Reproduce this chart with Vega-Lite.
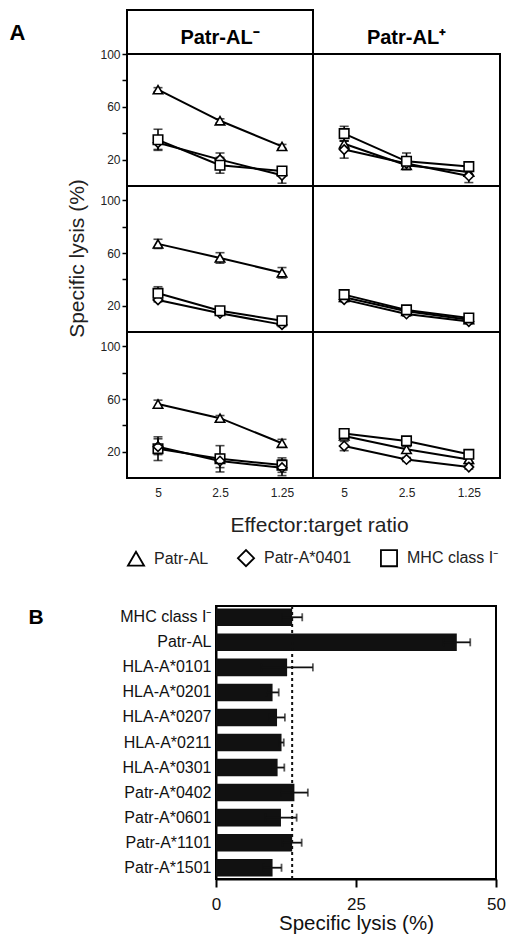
{
  "$schema": "https://vega.github.io/schema/vega-lite/v6.json",
  "padding": {"left": 8, "top": 9, "right": 4, "bottom": 4},
  "config": {
    "font": "Liberation Sans",
    "view": {"stroke": "black", "strokeWidth": 2},
    "axis": {"labelFont": "Liberation Sans", "titleFont": "Liberation Sans", "grid": false, "labelFlush": false}
  },
  "datasets": {
    "lysis": [
      {"row": 1, "col": "neg", "series": "Patr-AL", "et": "5", "v": 73, "e": 1.5},
      {"row": 1, "col": "neg", "series": "Patr-AL", "et": "2.5", "v": 49.4, "e": 1.5},
      {"row": 1, "col": "neg", "series": "Patr-AL", "et": "1.25", "v": 30, "e": 1.5},
      {"row": 1, "col": "neg", "series": "Patr-A*0401", "et": "5", "v": 32.7, "e": 5},
      {"row": 1, "col": "neg", "series": "Patr-A*0401", "et": "2.5", "v": 20, "e": 5},
      {"row": 1, "col": "neg", "series": "Patr-A*0401", "et": "1.25", "v": 8.1, "e": 6},
      {"row": 1, "col": "neg", "series": "MHC class I⁻", "et": "5", "v": 35, "e": 8},
      {"row": 1, "col": "neg", "series": "MHC class I⁻", "et": "2.5", "v": 15.7, "e": 6},
      {"row": 1, "col": "neg", "series": "MHC class I⁻", "et": "1.25", "v": 11.4, "e": 3},
      {"row": 1, "col": "pos", "series": "Patr-AL", "et": "5", "v": 32, "e": 2},
      {"row": 1, "col": "pos", "series": "Patr-AL", "et": "2.5", "v": 15.7, "e": 2},
      {"row": 1, "col": "pos", "series": "Patr-AL", "et": "1.25", "v": 10.6, "e": 2},
      {"row": 1, "col": "pos", "series": "Patr-A*0401", "et": "5", "v": 27.6, "e": 6.5},
      {"row": 1, "col": "pos", "series": "Patr-A*0401", "et": "2.5", "v": 17, "e": 2},
      {"row": 1, "col": "pos", "series": "Patr-A*0401", "et": "1.25", "v": 7.6, "e": 5},
      {"row": 1, "col": "pos", "series": "MHC class I⁻", "et": "5", "v": 39.7, "e": 5.5},
      {"row": 1, "col": "pos", "series": "MHC class I⁻", "et": "2.5", "v": 18.7, "e": 6.3},
      {"row": 1, "col": "pos", "series": "MHC class I⁻", "et": "1.25", "v": 14.7, "e": 2},
      {"row": 2, "col": "neg", "series": "Patr-AL", "et": "5", "v": 67, "e": 3.5},
      {"row": 2, "col": "neg", "series": "Patr-AL", "et": "2.5", "v": 56.3, "e": 4},
      {"row": 2, "col": "neg", "series": "Patr-AL", "et": "1.25", "v": 45, "e": 4},
      {"row": 2, "col": "neg", "series": "Patr-A*0401", "et": "5", "v": 24.4, "e": 1.5},
      {"row": 2, "col": "neg", "series": "Patr-A*0401", "et": "2.5", "v": 14.2, "e": 1.5},
      {"row": 2, "col": "neg", "series": "Patr-A*0401", "et": "1.25", "v": 5.6, "e": 1.5},
      {"row": 2, "col": "neg", "series": "MHC class I⁻", "et": "5", "v": 29.4, "e": 5},
      {"row": 2, "col": "neg", "series": "MHC class I⁻", "et": "2.5", "v": 16.2, "e": 1.5},
      {"row": 2, "col": "neg", "series": "MHC class I⁻", "et": "1.25", "v": 8.6, "e": 1.5},
      {"row": 2, "col": "pos", "series": "Patr-AL", "et": "5", "v": 26.4, "e": 1.5},
      {"row": 2, "col": "pos", "series": "Patr-AL", "et": "2.5", "v": 15.7, "e": 2},
      {"row": 2, "col": "pos", "series": "Patr-AL", "et": "1.25", "v": 9.4, "e": 1.5},
      {"row": 2, "col": "pos", "series": "Patr-A*0401", "et": "5", "v": 24.6, "e": 1.5},
      {"row": 2, "col": "pos", "series": "Patr-A*0401", "et": "2.5", "v": 13.7, "e": 1.5},
      {"row": 2, "col": "pos", "series": "Patr-A*0401", "et": "1.25", "v": 7.9, "e": 1.5},
      {"row": 2, "col": "pos", "series": "MHC class I⁻", "et": "5", "v": 28.4, "e": 2},
      {"row": 2, "col": "pos", "series": "MHC class I⁻", "et": "2.5", "v": 16.8, "e": 2.5},
      {"row": 2, "col": "pos", "series": "MHC class I⁻", "et": "1.25", "v": 10.7, "e": 2},
      {"row": 3, "col": "neg", "series": "Patr-AL", "et": "5", "v": 56.2, "e": 3},
      {"row": 3, "col": "neg", "series": "Patr-AL", "et": "2.5", "v": 45.5, "e": 2},
      {"row": 3, "col": "neg", "series": "Patr-AL", "et": "1.25", "v": 26.4, "e": 3},
      {"row": 3, "col": "neg", "series": "Patr-A*0401", "et": "5", "v": 23.8, "e": 6},
      {"row": 3, "col": "neg", "series": "Patr-A*0401", "et": "2.5", "v": 12.9, "e": 5},
      {"row": 3, "col": "neg", "series": "Patr-A*0401", "et": "1.25", "v": 7.8, "e": 6},
      {"row": 3, "col": "neg", "series": "MHC class I⁻", "et": "5", "v": 22.3, "e": 9},
      {"row": 3, "col": "neg", "series": "MHC class I⁻", "et": "2.5", "v": 14.6, "e": 10},
      {"row": 3, "col": "neg", "series": "MHC class I⁻", "et": "1.25", "v": 9.8, "e": 5.5},
      {"row": 3, "col": "pos", "series": "Patr-AL", "et": "5", "v": 32, "e": 2},
      {"row": 3, "col": "pos", "series": "Patr-AL", "et": "2.5", "v": 21.8, "e": 2},
      {"row": 3, "col": "pos", "series": "Patr-AL", "et": "1.25", "v": 14.1, "e": 2},
      {"row": 3, "col": "pos", "series": "Patr-A*0401", "et": "5", "v": 24.3, "e": 3.5},
      {"row": 3, "col": "pos", "series": "Patr-A*0401", "et": "2.5", "v": 14.1, "e": 1.5},
      {"row": 3, "col": "pos", "series": "Patr-A*0401", "et": "1.25", "v": 8.3, "e": 1.5},
      {"row": 3, "col": "pos", "series": "MHC class I⁻", "et": "5", "v": 33.8, "e": 2},
      {"row": 3, "col": "pos", "series": "MHC class I⁻", "et": "2.5", "v": 28.2, "e": 2},
      {"row": 3, "col": "pos", "series": "MHC class I⁻", "et": "1.25", "v": 18, "e": 2}
    ],
    "bars": [
      {"allele": "MHC class I⁻", "lysis": 13.6, "err": 1.8},
      {"allele": "Patr-AL", "lysis": 43.0, "err": 2.4},
      {"allele": "HLA-A*0101", "lysis": 12.7, "err": 4.6},
      {"allele": "HLA-A*0201", "lysis": 10.1, "err": 1.1},
      {"allele": "HLA-A*0207", "lysis": 10.9, "err": 1.4},
      {"allele": "HLA-A*0211", "lysis": 11.7, "err": 0.4},
      {"allele": "HLA-A*0301", "lysis": 11.0, "err": 1.2},
      {"allele": "Patr-A*0402", "lysis": 14.0, "err": 2.4},
      {"allele": "Patr-A*0601", "lysis": 11.6, "err": 2.8},
      {"allele": "Patr-A*1101", "lysis": 13.6, "err": 1.7},
      {"allele": "Patr-A*1501", "lysis": 10.1, "err": 1.6}
    ],
    "ref": [{"mhc": 13.6}],
    "hneg": [{"h": "Patr-AL⁻"}],
    "hpos": [{"h": "Patr-AL⁺"}],
    "none": []
  },
  "vconcat": [
    {
      "concat": [
        {
          "width": 186, "height": 44,
          "data": {"name": "hneg"},
          "mark": {"type": "text", "fontSize": 20, "fontWeight": "bold", "baseline": "middle", "dy": 6, "color": "black"},
          "encoding": {
            "text": {"field": "h"},
            "y": {"field": "h", "type": "nominal", "scale": {"type": "point", "padding": 0.5},
              "axis": {"labels": false, "ticks": false, "domain": false, "title": "A", "titleX": -118, "titleY": 29, "titleAngle": 0, "titleAlign": "left", "titleBaseline": "alphabetic", "titleFontSize": 22, "titleFontWeight": "bold", "titleColor": "black"}}
          }
        },
        {
          "width": 187, "height": 44,
          "data": {"name": "hpos"},
          "mark": {"type": "text", "fontSize": 20, "fontWeight": "bold", "baseline": "middle", "dy": 6, "color": "black"},
          "encoding": {"text": {"field": "h"}}
        },
        {
          "width": 186, "height": 132,
          "data": {"name": "lysis"},
          "transform": [{"filter": "datum.row == 1 && datum.col == 'neg'"}],
          "encoding": {
            "x": {"field": "et", "type": "nominal", "scale": {"type": "point", "domain": ["5", "2.5", "1.25"], "padding": 0.5}, "axis": null},
            "y": {"field": "v", "type": "quantitative", "scale": {"domain": [0, 100], "nice": false, "zero": true},
              "axis": {"values": [20, 40, 60, 80, 100], "labelExpr": "datum.value == 40 || datum.value == 80 ? '' : datum.label", "tickSize": 5, "tickWidth": 1.5, "tickColor": "black", "domain": false, "labelFontSize": 12, "labelPadding": 2, "labelColor": "#222", "title": null}}
          },
          "layer": [
            {"mark": {"type": "line", "color": "black", "strokeWidth": 2}, "encoding": {"detail": {"field": "series"}}},
            {"mark": {"type": "errorbar", "ticks": {"size": 9}, "thickness": 1.6, "color": "black"}, "encoding": {"yError": {"field": "e"}, "detail": {"field": "series"}}},
            {"mark": {"type": "point", "filled": false, "color": "black", "fill": "white", "stroke": "black", "strokeWidth": 1.6, "size": 90, "opacity": 1},
              "encoding": {"shape": {"field": "series", "type": "nominal", "scale": {"domain": ["Patr-AL", "Patr-A*0401", "MHC class I⁻"], "range": ["triangle-up", "diamond", "square"]}, "legend": null}}}
          ]
        },
        {
          "width": 187, "height": 132,
          "data": {"name": "lysis"},
          "transform": [{"filter": "datum.row == 1 && datum.col == 'pos'"}],
          "encoding": {
            "x": {"field": "et", "type": "nominal", "scale": {"type": "point", "domain": ["5", "2.5", "1.25"], "padding": 0.5}, "axis": null},
            "y": {"field": "v", "type": "quantitative", "scale": {"domain": [0, 100], "nice": false, "zero": true}, "axis": null}
          },
          "layer": [
            {"mark": {"type": "line", "color": "black", "strokeWidth": 2}, "encoding": {"detail": {"field": "series"}}},
            {"mark": {"type": "errorbar", "ticks": {"size": 9}, "thickness": 1.6, "color": "black"}, "encoding": {"yError": {"field": "e"}, "detail": {"field": "series"}}},
            {"mark": {"type": "point", "filled": false, "color": "black", "fill": "white", "stroke": "black", "strokeWidth": 1.6, "size": 90, "opacity": 1},
              "encoding": {"shape": {"field": "series", "type": "nominal", "scale": {"domain": ["Patr-AL", "Patr-A*0401", "MHC class I⁻"], "range": ["triangle-up", "diamond", "square"]}, "legend": null}}}
          ]
        },
        {
          "width": 186, "height": 146,
          "data": {"name": "lysis"},
          "transform": [{"filter": "datum.row == 2 && datum.col == 'neg'"}],
          "encoding": {
            "x": {"field": "et", "type": "nominal", "scale": {"type": "point", "domain": ["5", "2.5", "1.25"], "padding": 0.5}, "axis": null},
            "y": {"field": "v", "type": "quantitative", "scale": {"domain": [0, 111], "nice": false, "zero": true},
              "axis": {"values": [20, 40, 60, 80, 100], "labelExpr": "datum.value == 40 || datum.value == 80 ? '' : datum.label", "tickSize": 5, "tickWidth": 1.5, "tickColor": "black", "domain": false, "labelFontSize": 12, "labelPadding": 2, "labelColor": "#222",
                "title": "Specific lysis (%)", "titleX": -50, "titleY": 72, "titleBaseline": "middle", "titleAlign": "center", "titleAngle": -90, "titleFontSize": 21, "titleFontWeight": "normal", "titleColor": "#222"}}
          },
          "layer": [
            {"mark": {"type": "line", "color": "black", "strokeWidth": 2}, "encoding": {"detail": {"field": "series"}}},
            {"mark": {"type": "errorbar", "ticks": {"size": 9}, "thickness": 1.6, "color": "black"}, "encoding": {"yError": {"field": "e"}, "detail": {"field": "series"}}},
            {"mark": {"type": "point", "filled": false, "color": "black", "fill": "white", "stroke": "black", "strokeWidth": 1.6, "size": 90, "opacity": 1},
              "encoding": {"shape": {"field": "series", "type": "nominal", "scale": {"domain": ["Patr-AL", "Patr-A*0401", "MHC class I⁻"], "range": ["triangle-up", "diamond", "square"]}, "legend": null}}}
          ]
        },
        {
          "width": 187, "height": 146,
          "data": {"name": "lysis"},
          "transform": [{"filter": "datum.row == 2 && datum.col == 'pos'"}],
          "encoding": {
            "x": {"field": "et", "type": "nominal", "scale": {"type": "point", "domain": ["5", "2.5", "1.25"], "padding": 0.5}, "axis": null},
            "y": {"field": "v", "type": "quantitative", "scale": {"domain": [0, 111], "nice": false, "zero": true}, "axis": null}
          },
          "layer": [
            {"mark": {"type": "line", "color": "black", "strokeWidth": 2}, "encoding": {"detail": {"field": "series"}}},
            {"mark": {"type": "errorbar", "ticks": {"size": 9}, "thickness": 1.6, "color": "black"}, "encoding": {"yError": {"field": "e"}, "detail": {"field": "series"}}},
            {"mark": {"type": "point", "filled": false, "color": "black", "fill": "white", "stroke": "black", "strokeWidth": 1.6, "size": 90, "opacity": 1},
              "encoding": {"shape": {"field": "series", "type": "nominal", "scale": {"domain": ["Patr-AL", "Patr-A*0401", "MHC class I⁻"], "range": ["triangle-up", "diamond", "square"]}, "legend": null}}}
          ]
        },
        {
          "width": 186, "height": 146,
          "data": {"name": "lysis"},
          "transform": [{"filter": "datum.row == 3 && datum.col == 'neg'"}],
          "encoding": {
            "x": {"field": "et", "type": "nominal", "scale": {"type": "point", "domain": ["5", "2.5", "1.25"], "padding": 0.5},
              "axis": {"ticks": false, "tickSize": 0, "domain": false, "labelFontSize": 12, "labelPadding": 9, "labelAngle": 0, "labelColor": "#222",
                "title": "Effector:target ratio", "titleX": 192, "titleY": 53, "titleAlign": "center", "titleBaseline": "alphabetic", "titleAngle": 0, "titleFontSize": 21, "titleFontWeight": "normal", "titleColor": "#222"}},
            "y": {"field": "v", "type": "quantitative", "scale": {"domain": [0, 111], "nice": false, "zero": true},
              "axis": {"values": [20, 40, 60, 80, 100], "labelExpr": "datum.value == 40 || datum.value == 80 ? '' : datum.label", "tickSize": 5, "tickWidth": 1.5, "tickColor": "black", "domain": false, "labelFontSize": 12, "labelPadding": 2, "labelColor": "#222", "title": null}}
          },
          "layer": [
            {"mark": {"type": "line", "color": "black", "strokeWidth": 2}, "encoding": {"detail": {"field": "series"}}},
            {"mark": {"type": "errorbar", "ticks": {"size": 9}, "thickness": 1.6, "color": "black"}, "encoding": {"yError": {"field": "e"}, "detail": {"field": "series"}}},
            {"mark": {"type": "point", "filled": true, "color": "white", "size": 90, "opacity": 1},
              "encoding": {"shape": {"field": "series", "type": "nominal", "scale": {"domain": ["Patr-AL", "Patr-A*0401", "MHC class I⁻"], "range": ["triangle-up", "diamond", "square"]}, "legend": null}}},
            {"mark": {"type": "point", "filled": false, "color": "black", "strokeWidth": 1.6, "size": 90, "opacity": 1},
              "encoding": {"shape": {"field": "series", "type": "nominal", "scale": {"domain": ["Patr-AL", "Patr-A*0401", "MHC class I⁻"], "range": ["triangle-up", "diamond", "square"]},
                "legend": {"orient": "bottom", "direction": "horizontal", "title": null, "offset": 14, "labelFontSize": 16, "labelColor": "#222", "labelFont": "Liberation Sans", "labelOffset": 9, "columnPadding": 25, "symbolSize": 260, "symbolStrokeWidth": 1.8, "padding": 0}}}}
          ],
          "resolve": {"scale": {"shape": "independent"}, "legend": {"shape": "independent"}}
        },
        {
          "width": 187, "height": 146,
          "data": {"name": "lysis"},
          "transform": [{"filter": "datum.row == 3 && datum.col == 'pos'"}],
          "encoding": {
            "x": {"field": "et", "type": "nominal", "scale": {"type": "point", "domain": ["5", "2.5", "1.25"], "padding": 0.5},
              "axis": {"ticks": false, "tickSize": 0, "domain": false, "labelFontSize": 12, "labelPadding": 9, "labelAngle": 0, "labelColor": "#222", "title": null}},
            "y": {"field": "v", "type": "quantitative", "scale": {"domain": [0, 111], "nice": false, "zero": true}, "axis": null}
          },
          "layer": [
            {"mark": {"type": "line", "color": "black", "strokeWidth": 2}, "encoding": {"detail": {"field": "series"}}},
            {"mark": {"type": "errorbar", "ticks": {"size": 9}, "thickness": 1.6, "color": "black"}, "encoding": {"yError": {"field": "e"}, "detail": {"field": "series"}}},
            {"mark": {"type": "point", "filled": false, "color": "black", "fill": "white", "stroke": "black", "strokeWidth": 1.6, "size": 90, "opacity": 1},
              "encoding": {"shape": {"field": "series", "type": "nominal", "scale": {"domain": ["Patr-AL", "Patr-A*0401", "MHC class I⁻"], "range": ["triangle-up", "diamond", "square"]}, "legend": null}}}
          ]
        }
      ],
      "columns": 2,
      "spacing": 0,
      "bounds": "flush",
      "resolve": {"scale": {"x": "independent", "y": "independent", "shape": "independent"}, "legend": {"shape": "independent"}}
    },
    {
      "hconcat": [
        {
          "width": 89, "height": 273,
          "view": {"stroke": null},
          "data": {"name": "none"},
          "mark": "point"
        },
        {
          "width": 280, "height": 273,
          "layer": [
            {
              "data": {"name": "bars"},
              "mark": {"type": "bar", "color": "#111"},
              "encoding": {
                "y": {"field": "allele", "type": "nominal", "sort": null, "scale": {"paddingInner": 0.3, "paddingOuter": 0.1},
                  "axis": {"ticks": false, "domainWidth": 2, "domainColor": "black", "labelFontSize": 16, "labelPadding": 5, "labelColor": "#111",
                    "title": "B", "titleX": -188, "titleY": 17, "titleAngle": 0, "titleAlign": "left", "titleBaseline": "alphabetic", "titleFontSize": 21, "titleFontWeight": "bold", "titleColor": "black"}},
                "x": {"field": "lysis", "type": "quantitative", "scale": {"domain": [0, 50], "nice": false}, "title": "Specific lysis (%)",
                  "axis": {"values": [0, 25, 50], "tickSize": 8, "tickWidth": 2, "tickColor": "black", "domainWidth": 2, "domainColor": "black", "labelFontSize": 17, "labelPadding": 9, "labelColor": "#111",
                    "titleFontSize": 20.5, "titleFontWeight": "normal", "titlePadding": 1, "titleColor": "#111"}}
              }
            },
            {
              "data": {"name": "bars"},
              "mark": {"type": "errorbar", "ticks": {"size": 8}, "thickness": 1.8, "color": "#111"},
              "encoding": {
                "y": {"field": "allele", "type": "nominal", "sort": null, "title": "B"},
                "x": {"field": "lysis", "type": "quantitative", "title": "Specific lysis (%)"},
                "xError": {"field": "err"}
              }
            },
            {
              "data": {"name": "ref"},
              "mark": {"type": "rule", "strokeDash": [3, 3], "strokeWidth": 2, "color": "#111"},
              "encoding": {"x": {"field": "mhc", "type": "quantitative", "title": "Specific lysis (%)"}}
            }
          ]
        }
      ],
      "spacing": 0,
      "bounds": "flush"
    }
  ],
  "spacing": 33,
  "resolve": {"scale": {"shape": "independent"}, "legend": {"shape": "independent"}}
}
